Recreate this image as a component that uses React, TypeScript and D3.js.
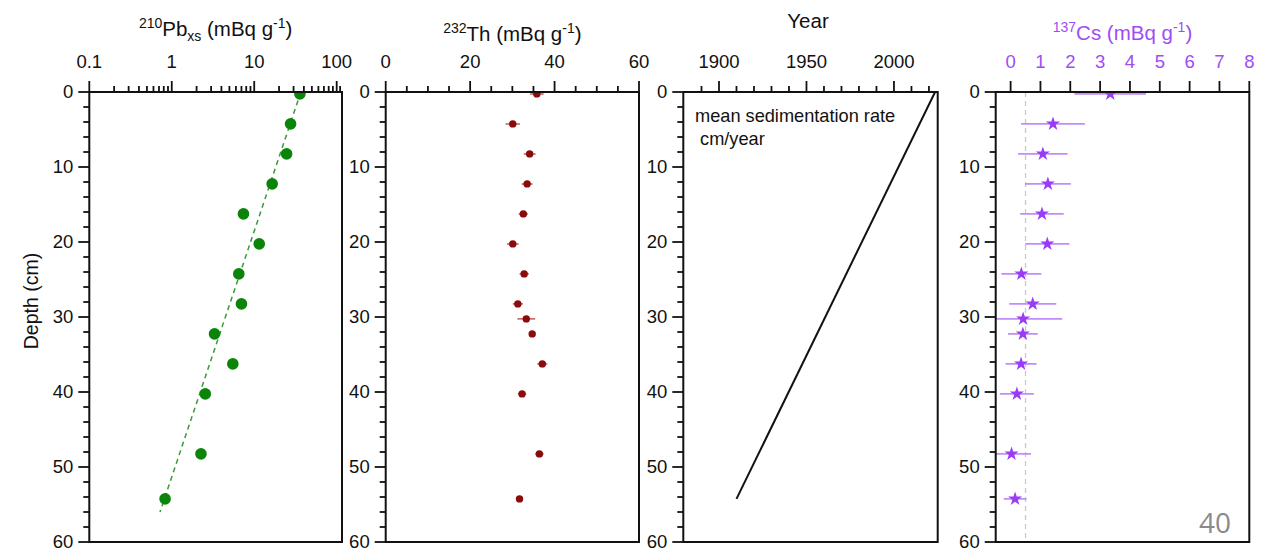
import React from "react";
import * as d3 from "d3";

// ---- depth intervals (cm, slice mid-points) ----
const pbDepths = [0.25, 4.25, 8.25, 12.25, 16.25, 20.25, 24.25, 28.25, 32.25, 36.25, 40.25, 48.25, 54.25];
const pbValues = [35.8, 27.6, 24.7, 16.5, 7.4, 11.5, 6.5, 7.0, 3.3, 5.5, 2.55, 2.26, 0.83];
// log-linear fit of excess 210Pb (end points of the regression line)
const pbFitDepths = [0, 56];
const pbFitValues = [36.8, 0.72];

const thDepths = [0.25, 4.25, 8.25, 12.25, 16.25, 20.25, 24.25, 28.25, 30.25, 32.25, 36.25, 40.25, 48.25, 54.25];
const thValues = [35.8, 30.1, 34.1, 33.5, 32.6, 30.1, 32.8, 31.3, 33.3, 34.7, 37.1, 32.3, 36.4, 31.7];
const thErrors = [1.6, 1.7, 1.4, 1.3, 1.1, 1.4, 1.1, 1.2, 2.1, 0.4, 1.2, 1.0, 1.0, 0.7];

const csDepths = [0.25, 4.25, 8.25, 12.25, 16.25, 20.25, 24.25, 28.25, 30.25, 32.25, 36.25, 40.25, 48.25, 54.25];
const csValues = [3.34, 1.42, 1.08, 1.25, 1.05, 1.23, 0.36, 0.74, 0.42, 0.41, 0.35, 0.21, 0.03, 0.15];
const csErrors = [1.2, 1.07, 0.83, 0.77, 0.73, 0.74, 0.67, 0.79, 1.31, 0.5, 0.52, 0.57, 0.65, 0.38];
const csDetectionLimit = 0.5;

// age-depth model (constant mean sedimentation rate)
const ageYears = [2023.5, 1910];
const ageDepths = [0, 54.25];

// ---- axis ticks ----
const depthMajorTicks = [0, 10, 20, 30, 40, 50, 60];
const depthMinorTicks = d3.range(0, 61, 2).filter((d) => d % 10 !== 0);
const pbMajorTicks = [0.1, 1, 10, 100];
const pbTickLabels = ["0.1", "1", "10", "100"];
const thMajorTicks = [0, 20, 40, 60];
const thMinorTicks = d3.range(0, 61, 5).filter((d) => d % 20 !== 0);
const yearMajorTicks = [1900, 1950, 2000];
const yearMinorTicks = d3.range(1890, 2021, 10).filter((d) => d % 50 !== 0);
const csMajorTicks = [0, 1, 2, 3, 4, 5, 6, 7, 8];

const W = 1263;
const H = 549;
const TOP = 92;
const BOTTOM = 542;
const FONT = "'Liberation Sans', Arial, sans-serif";
const TICK_FS = 18.5;
const TITLE_FS = 20.5;
const SUP_FS = 14;

const PB_GREEN = "#0a850a";
const TH_RED = "#8b0a0a";
const CS_PURPLE = "#9a3cf5";
const CS_TEXT = "#a04cf6";

const panels = {
  pb: { left: 89.3, right: 342 },
  th: { left: 385.7, right: 639 },
  yr: { left: 683.3, right: 937.7 },
  cs: { left: 995.7, right: 1249.3 },
};

const y = d3.scaleLinear().domain([0, 60]).range([TOP, BOTTOM]);
const xPb = d3.scaleLog().domain([0.1, 116]).range([panels.pb.left, panels.pb.right]);
const xTh = d3.scaleLinear().domain([0, 60]).range([panels.th.left, panels.th.right]);
const xYr = d3.scaleLinear().domain([1879.6, 2025]).range([panels.yr.left, panels.yr.right]);
const xCs = d3.scaleLinear().domain([-0.5, 8]).range([panels.cs.left, panels.cs.right]);

const pbMinorTicks: number[] = [];
for (const dec of [0.1, 1, 10]) for (let k = 2; k <= 9; k++) pbMinorTicks.push(dec * k);
pbMinorTicks.push(110);

function DepthAxis({ left }: { left: number }) {
  return (
    <g>
      {depthMajorTicks.map((d) => (
        <g key={"M" + d}>
          <line x1={left - 11} x2={left} y1={y(d)} y2={y(d)} stroke="#111" strokeWidth={1.8} />
          <text x={left - 16} y={y(d)} dy="0.35em" textAnchor="end" fontSize={TICK_FS} fill="#111">
            {d}
          </text>
        </g>
      ))}
      {depthMinorTicks.map((d) => (
        <line key={"m" + d} x1={left - 6} x2={left} y1={y(d)} y2={y(d)} stroke="#111" strokeWidth={1.8} />
      ))}
    </g>
  );
}

function TopAxis({
  scale,
  major,
  minor,
  labels,
  color = "#111",
}: {
  scale: (v: number) => number;
  major: number[];
  minor: number[];
  labels: string[];
  color?: string;
}) {
  return (
    <g>
      {major.map((v, i) => (
        <g key={"M" + i}>
          <line x1={scale(v)} x2={scale(v)} y1={TOP - 11} y2={TOP} stroke="#111" strokeWidth={1.8} />
          <text x={scale(v)} y={68.3} textAnchor="middle" fontSize={TICK_FS} fill={color}>
            {labels[i]}
          </text>
        </g>
      ))}
      {minor.map((v, i) => (
        <line key={"m" + i} x1={scale(v)} x2={scale(v)} y1={TOP - 6} y2={TOP} stroke="#111" strokeWidth={1.8} />
      ))}
    </g>
  );
}

function Frame({ left, right }: { left: number; right: number }) {
  return (
    <rect x={left} y={TOP} width={right - left} height={BOTTOM - TOP} fill="none" stroke="#111" strokeWidth={2} />
  );
}

function UnitTitle({ x, yPos, iso, sym, sub, color = "#111" }: { x: number; yPos: number; iso: string; sym: string; sub?: string; color?: string }) {
  return (
    <text x={x} y={yPos} textAnchor="middle" fontSize={TITLE_FS} fill={color}>
      <tspan fontSize={SUP_FS} dy={-8}>{iso}</tspan>
      <tspan dy={8}>{sym}</tspan>
      {sub ? (
        <>
          <tspan fontSize={SUP_FS} dy={5}>{sub}</tspan>
          <tspan dy={-5}> (mBq g</tspan>
        </>
      ) : (
        <tspan> (mBq g</tspan>
      )}
      <tspan fontSize={SUP_FS} dy={-8}>-1</tspan>
      <tspan dy={8}>)</tspan>
    </text>
  );
}

export default function App() {
  const star = d3.symbol().type(d3.symbolStar).size(62)();
  const pbLine = d3
    .line<number>()
    .x((_, i) => xPb(pbFitValues[i]))
    .y((d) => y(d))(pbFitDepths);
  const ageLine = d3
    .line<number>()
    .x((_, i) => xYr(ageYears[i]))
    .y((d) => y(d))(ageDepths);

  return (
    <svg
      width={W}
      height={H}
      viewBox={`0 0 ${W} ${H}`}
      style={{ position: "absolute", left: 0, top: 0, background: "#fff" }}
      fontFamily={FONT}
    >
      <defs>
        {Object.entries(panels).map(([k, p]) => (
          <clipPath id={"clip-" + k} key={k}>
            <rect x={p.left} y={TOP} width={p.right - p.left} height={BOTTOM - TOP} />
          </clipPath>
        ))}
      </defs>

      <text
        transform={`translate(38,301) rotate(-90)`}
        textAnchor="middle"
        fontSize={19.5}
        fill="#111"
      >
        Depth (cm)
      </text>

      {/* 210Pb excess */}
      <UnitTitle x={(panels.pb.left + panels.pb.right) / 2} yPos={36} iso="210" sym="Pb" sub="xs" />
      <TopAxis scale={xPb} major={pbMajorTicks} minor={pbMinorTicks} labels={pbTickLabels} />
      <DepthAxis left={panels.pb.left} />
      <g clipPath="url(#clip-pb)">
        <path d={pbLine ?? ""} fill="none" stroke="#3a9a3a" strokeWidth={1.5} strokeDasharray="5,4" />
        {pbDepths.map((d, i) => (
          <circle key={i} cx={xPb(pbValues[i])} cy={y(d)} r={5.8} fill={PB_GREEN} />
        ))}
      </g>
      <Frame {...panels.pb} />

      {/* 232Th */}
      <UnitTitle x={(panels.th.left + panels.th.right) / 2} yPos={41} iso="232" sym="Th" />
      <TopAxis scale={xTh} major={thMajorTicks} minor={thMinorTicks} labels={thMajorTicks.map(String)} />
      <DepthAxis left={panels.th.left} />
      <g clipPath="url(#clip-th)">
        {thDepths.map((d, i) => (
          <line
            key={"e" + i}
            x1={xTh(thValues[i] - thErrors[i])}
            x2={xTh(thValues[i] + thErrors[i])}
            y1={y(d)}
            y2={y(d)}
            stroke="#c05a5a"
            strokeWidth={1.5}
          />
        ))}
        {thDepths.map((d, i) => (
          <circle key={i} cx={xTh(thValues[i])} cy={y(d)} r={3.7} fill={TH_RED} />
        ))}
      </g>
      <Frame {...panels.th} />

      {/* Year */}
      <text x={808} y={28.3} textAnchor="middle" fontSize={TITLE_FS} fill="#111">
        Year
      </text>
      <TopAxis scale={xYr} major={yearMajorTicks} minor={yearMinorTicks} labels={yearMajorTicks.map(String)} />
      <DepthAxis left={panels.yr.left} />
      <g clipPath="url(#clip-yr)">
        <path d={ageLine ?? ""} fill="none" stroke="#111" strokeWidth={2} />
      </g>
      <text x={695} y={122} fontSize={18.2} fill="#111">
        mean sedimentation rate
      </text>
      <text x={695} y={145} fontSize={18.2} fill="#111" xmlSpace="preserve">
        {" cm/year"}
      </text>
      <Frame {...panels.yr} />

      {/* 137Cs */}
      <UnitTitle x={(panels.cs.left + panels.cs.right) / 2} yPos={40} iso="137" sym="Cs" color={CS_TEXT} />
      <TopAxis scale={xCs} major={csMajorTicks} minor={[]} labels={csMajorTicks.map(String)} color={CS_TEXT} />
      <DepthAxis left={panels.cs.left} />
      <g clipPath="url(#clip-cs)">
        <line
          x1={xCs(csDetectionLimit)}
          x2={xCs(csDetectionLimit)}
          y1={TOP}
          y2={BOTTOM}
          stroke="#c8c8c8"
          strokeWidth={1.3}
          strokeDasharray="5,4"
        />
        {csDepths.map((d, i) => (
          <line
            key={"e" + i}
            x1={xCs(csValues[i] - csErrors[i])}
            x2={xCs(csValues[i] + csErrors[i])}
            y1={y(d)}
            y2={y(d)}
            stroke="#c08ef8"
            strokeWidth={1.6}
          />
        ))}
        {csDepths.map((d, i) => (
          <path key={i} d={star ?? ""} transform={`translate(${xCs(csValues[i])},${y(d)})`} fill={CS_PURPLE} />
        ))}
      </g>
      <Frame {...panels.cs} />

      <text x={1215} y={533} textAnchor="middle" fontSize={28} fill="#8a8a8a" fontFamily="'Open Sans', 'Noto Sans', sans-serif">
        40
      </text>
    </svg>
  );
}
